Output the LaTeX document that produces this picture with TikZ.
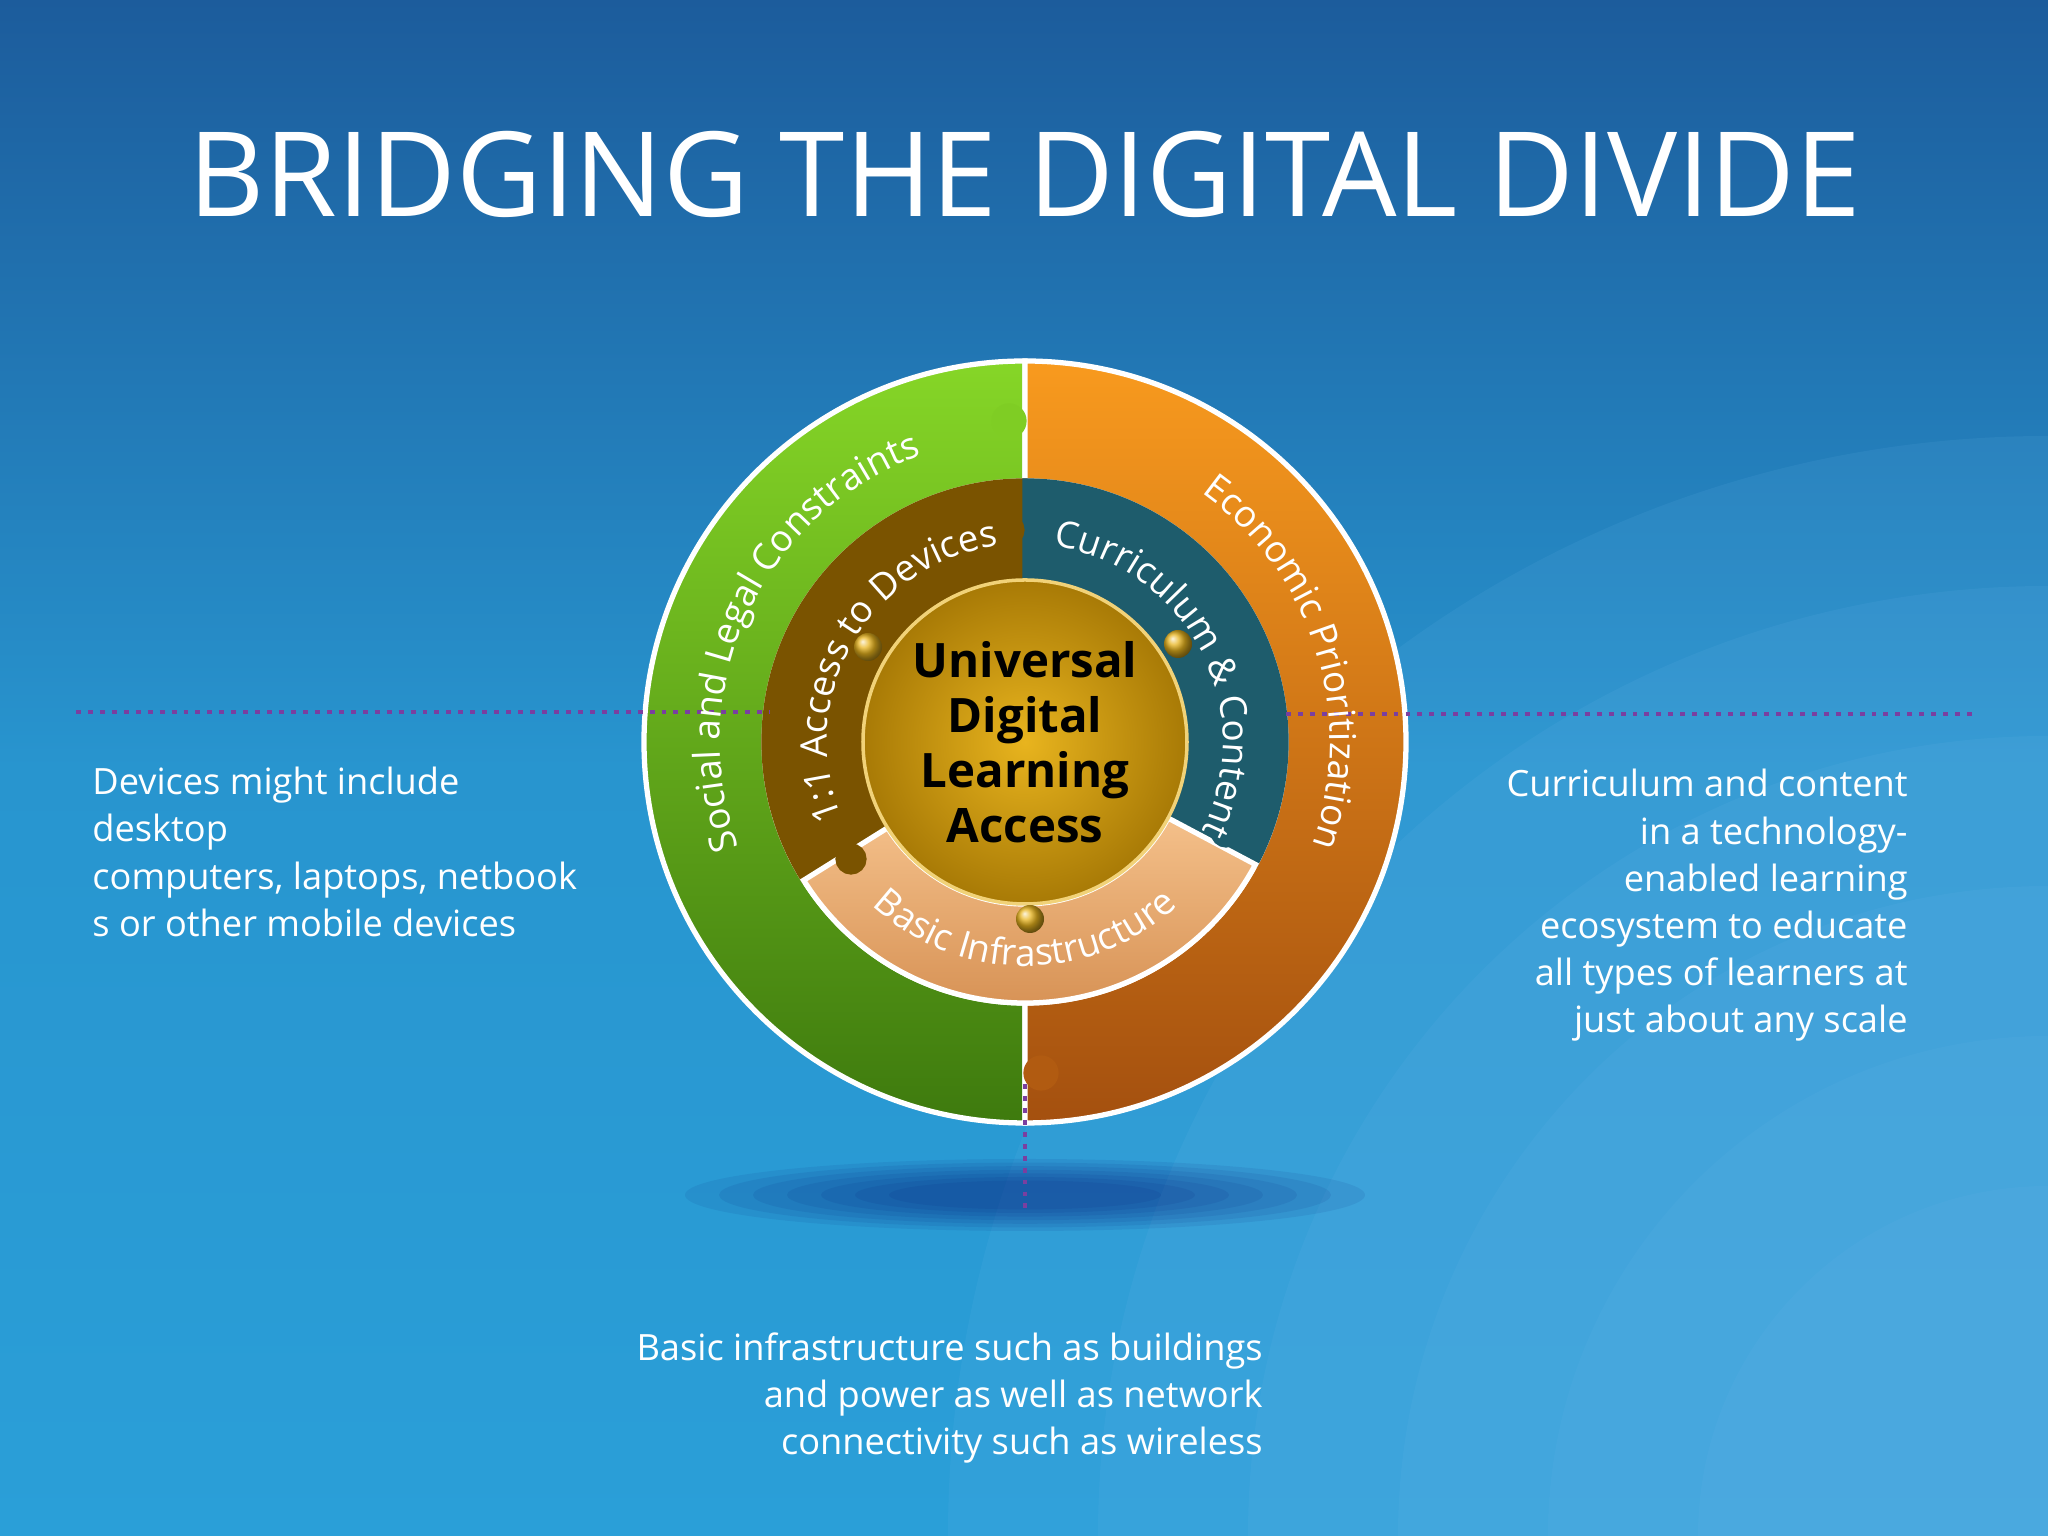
\documentclass[tikz,border=0pt]{standalone}
\usepackage{fontspec}
\setmainfont{Open Sans}
\usetikzlibrary{calc,decorations.text,shadings}
\definecolor{bgtop}{HTML}{1C5C9C}
\definecolor{bgmid}{HTML}{2A9FD8}
\definecolor{bglight}{HTML}{6AB6EA}
\definecolor{grnT}{HTML}{86D627}
\definecolor{grnB}{HTML}{3E7A0E}
\definecolor{orT}{HTML}{F89A1E}
\definecolor{orB}{HTML}{A4500F}
\definecolor{brown}{HTML}{7A5300}
\definecolor{teal}{HTML}{1E5C6C}
\definecolor{peachT}{HTML}{F4C08A}
\definecolor{peachB}{HTML}{D28A4C}
\definecolor{goldI}{HTML}{E8B41E}
\definecolor{goldO}{HTML}{A87A06}
\definecolor{dotp}{HTML}{7A3FA0}
\tikzset{
 guide/.style={dotp, line width=1.4pt, dotted},
 seg/.style={draw=white, line width=1.5pt},
 knob/.style={circle, inner sep=0pt, minimum size=0.28cm, ball color=goldI, draw=none},
 body/.style={text=white, font=\fontsize{10.3}{13.4}\selectfont},
}
\newcommand{\ringlbl}[1]{|\fontsize{10.5}{10.5}\selectfont\color{white}|#1}
\begin{document}
\begin{tikzpicture}
\useasboundingbox (0,0) rectangle (20.48,15.36);
\shade[top color=bgtop, bottom color=bgmid, middle color=bgmid!85!bgtop] (0,0) rectangle (20.48,15.36);
\begin{scope}
\clip (0,0) rectangle (20.48,15.36);
\foreach \r in {11,9.5,8,6.5,5,3.5}
  \fill[bglight, opacity=0.12] (20.48,0) circle (\r);
\end{scope}
\coordinate (c) at (10.25,7.94);
% shadow
\foreach \s in {1.0,0.9,0.8,0.7,0.6,0.5,0.4}
  \fill[black!60!blue, opacity=0.07] (10.25,3.41) ellipse ({3.4*\s} and {0.36*\s});
% title
\node[text=white, font=\fontsize{33.5}{33.5}\selectfont] (title) at (10.25,13.62) {BRIDGING THE DIGITAL DIVIDE};
% guides
\coordinate (gl1) at (0.76,8.24); \coordinate (gl2) at (7.7,8.24);
\coordinate (gr1) at (12.86,8.22); \coordinate (gr2) at (19.75,8.22);
\coordinate (gb1) at (10.25,4.52); \coordinate (gb2) at (10.25,3.28);
% outer ring
\shade[seg, top color=grnT, bottom color=grnB] ($(c)+(90:3.81)$) arc (90:270:3.81) -- ($(c)+(270:2.61)$) arc (270:90:2.61) -- cycle;
\shade[seg, top color=orT, bottom color=orB] ($(c)+(90:3.81)$) arc (90:-90:3.81) -- ($(c)+(-90:2.61)$) arc (-90:90:2.61) -- cycle;
% middle ring
\fill[seg, brown] ($(c)+(90:2.61)$) arc (90:212:2.61) -- ($(c)+(212:1.62)$) arc (212:90:1.62) -- cycle;
\fill[seg, teal] ($(c)+(90:2.61)$) arc (90:-28:2.61) -- ($(c)+(-28:1.62)$) arc (-28:90:1.62) -- cycle;
\shade[seg, top color=peachT, bottom color=peachB] ($(c)+(212:2.61)$) arc (212:332:2.61) -- ($(c)+(332:1.62)$) arc (332:212:1.62) -- cycle;
% puzzle knobs
\fill[seg, grnT!90!grnB] ($(c)+(-0.16,3.21)$) circle (0.15);
\fill[seg, brown] ($(c)+(-0.16,2.12)$) circle (0.13);
\fill[seg, orB!85!orT] ($(c)+(0.16,-3.31)$) circle (0.15);
\fill[seg, teal] ($(c)+(2.01,-0.9)$) circle (0.13);
\fill[seg, brown] ($(c)+(-1.74,-1.17)$) circle (0.13);
\draw[guide] (gl1) -- (gl2);
\draw[guide] (gr1) -- (gr2);
\draw[guide] (gb1) -- (gb2);
% center
\shade[inner color=goldI, outer color=goldO, draw=goldI!60!white, line width=1pt] (c) circle (1.62);
\node[knob] (k1) at ($(c)+(-1.57,0.95)$) {};
\node[knob] (k2) at ($(c)+(1.53,0.98)$) {};
\node[knob] (k3) at ($(c)+(0.05,-1.77)$) {};
\node[align=center, font=\bfseries\fontsize{13.5}{15.6}\selectfont, text=black] (ctr) at (c) {Universal\\Digital\\Learning\\Access};
% ring labels
\path[decorate, decoration={text along path, text align=center, text={\ringlbl{Social and Legal Constraints}}}] ($(c)+(205:3.05)$) arc (205:105:3.05);
\path[decorate, decoration={text along path, text align=center, text={\ringlbl{1:1 Access to Devices}}}] ($(c)+(215:1.98)$) arc (215:85:1.98);
\path[decorate, decoration={text along path, text align=center, text={\ringlbl{Curriculum {\&} Content}}}] ($(c)+(85:1.98)$) arc (85:-30:1.98);
\path[decorate, decoration={text along path, text align=center, text={\ringlbl{Economic Prioritization}}}] ($(c)+(65:3.05)$) arc (65:-30:3.05);
\path[decorate, decoration={text along path, text align=center, text={\ringlbl{Basic Infrastructure}}}] ($(c)+(218:2.24)$) arc (218:322:2.24);
% body texts
\node[body, align=left, anchor=north west] (tl) at (0.8,7.81) {Devices might include\\desktop\\computers, laptops, netbook\\s or other mobile devices};
\node[body, align=right, anchor=north east] (tr) at (19.2,7.79) {Curriculum and content\\in a technology-\\enabled learning\\ecosystem to educate\\all types of learners at\\just about any scale};
\node[body, align=right, anchor=north east] (tb) at (12.75,2.16) {Basic infrastructure such as buildings\\and power as well as network\\connectivity such as wireless};
\end{tikzpicture}
\end{document}
